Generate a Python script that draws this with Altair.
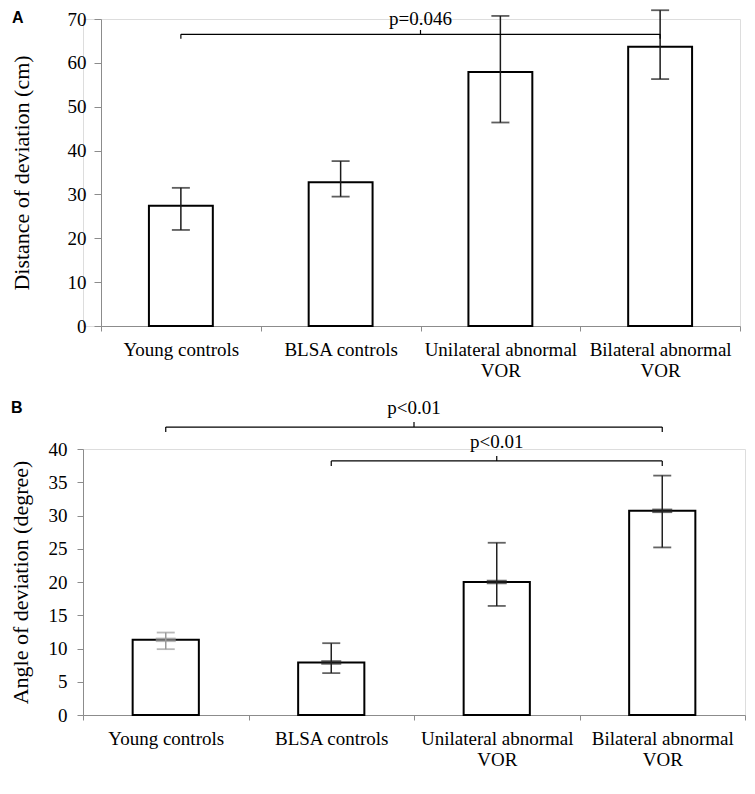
import altair as alt
import pandas as pd

# ---------------- data ----------------
categories = ["Young controls", "BLSA controls", "Unilateral abnormal|VOR", "Bilateral abnormal|VOR"]

dist_mean = [27.4, 32.8, 57.9, 63.7]
dist_low = [21.9, 29.5, 46.4, 56.3]
dist_high = [31.5, 37.6, 70.7, 72.0]

angle_mean = [11.3, 7.9, 20.0, 30.7]
angle_low = [9.9, 6.3, 16.4, 25.2]
angle_high = [12.4, 10.8, 25.9, 36.0]

# significance brackets (group index from, group index to, level, label)
dist_br_from = [0]
dist_br_to = [3]
dist_br_level = [66.5]
dist_br_label = ["p=0.046"]

angle_br_from = [0, 1]
angle_br_to = [3, 3]
angle_br_level = [43.3, 38.2]
angle_br_label = ["p<0.01", "p<0.01"]

panel_letters = ["A", "B"]

# ---------------- styling ----------------
SERIF = "Liberation Serif"
SANS = "Liberation Sans"
AXIS_GRAY = "#8c8c8c"


def panel(letter, means, lows, highs, brf, brt, brl, brlab, ytitle, ymax, ystep,
          width, x_start, height, tick_len, thick_marks, err_colors,
          ytick, ylabpad, ytitlepad, letter_x, letter_y, text_dy):
    df = pd.DataFrame({"cat": categories, "mean": means, "low": lows, "high": highs,
                       "ecol": err_colors})
    yscale = alt.Scale(domain=[0, ymax], nice=False, zero=True)
    yaxis = alt.Axis(values=list(range(0, ymax + 1, ystep)), grid=False,
                     offset=-x_start,
                     domainColor=AXIS_GRAY, tickColor=AXIS_GRAY, tickSize=ytick,
                     labelFont=SERIF, labelFontSize=19, labelColor="black",
                     labelPadding=ylabpad, titleFont=SERIF, titleFontSize=22,
                     titleFontWeight="normal", titleColor="black",
                     titlePadding=ytitlepad)
    xenc = alt.X("cat:N", sort=categories,
                 scale=alt.Scale(domain=categories, range=[x_start, width],
                                 paddingInner=0, paddingOuter=0),
                 axis=alt.Axis(title=None, labelAngle=0, tickBand="extent",
                               labelExpr="isValid(datum.value) ? split(datum.value, '|') : ''",
                               domainColor=AXIS_GRAY, tickColor=AXIS_GRAY, tickSize=5,
                               labelFont=SERIF, labelFontSize=19, labelColor="black",
                               labelPadding=9, labelLineHeight=21))

    def Y(field):
        return alt.Y(field, type="quantitative", scale=yscale, axis=yaxis, title=ytitle)

    base = alt.Chart(df)
    bars = base.mark_bar(fill="white", stroke="black", strokeWidth=2,
                         width=alt.RelativeBandSize(0.4)).encode(x=xenc, y=Y("mean"))
    err = base.mark_rule(strokeWidth=1.5).encode(
        x=xenc, y=Y("low"), y2="high", color=alt.Color("ecol:N", scale=None))
    cap_lo = base.mark_tick(size=18, thickness=1.8).encode(
        x=xenc, y=Y("low"), color=alt.Color("ecol:N", scale=None))
    cap_hi = base.mark_tick(size=18, thickness=1.8).encode(
        x=xenc, y=Y("high"), color=alt.Color("ecol:N", scale=None))
    layers = [bars, err, cap_lo, cap_hi]
    if thick_marks:
        thick = base.mark_tick(size=20, thickness=4.5).encode(
            x=xenc, y=Y("mean"), color=alt.Color("ecol:N", scale=None))
        layers.append(thick)
    bar_layer = alt.layer(*layers)

    br = pd.DataFrame({"f": brf, "t": brt, "lev": brl, "lab": brlab})
    br["x1"] = br["f"] + 0.5
    br["x2"] = br["t"] + 0.5
    br["mid"] = (br["x1"] + br["x2"]) / 2
    br["down"] = br["lev"] - tick_len
    br["up"] = br["lev"] + tick_len
    qx = alt.Scale(domain=[0, len(categories)], range=[x_start, width],
                   nice=False, zero=False)
    bb = alt.Chart(br)
    hline = bb.mark_rule(color="black", strokeWidth=1.2).encode(
        x=alt.X("x1:Q", scale=qx, axis=None), x2="x2", y=Y("lev"))
    lt = bb.mark_rule(color="black", strokeWidth=1.2).encode(
        x=alt.X("x1:Q", scale=qx, axis=None), y=Y("down"), y2="lev")
    rt = bb.mark_rule(color="black", strokeWidth=1.2).encode(
        x=alt.X("x2:Q", scale=qx, axis=None), y=Y("down"), y2="lev")
    mt = bb.mark_rule(color="black", strokeWidth=1.2).encode(
        x=alt.X("mid:Q", scale=qx, axis=None), y=Y("lev"), y2="up")
    txt = bb.mark_text(font=SERIF, fontSize=19, baseline="bottom", dy=text_dy,
                       color="black").encode(
        x=alt.X("mid:Q", scale=qx, axis=None), y=Y("up"), text="lab:N")
    br_layer = alt.layer(hline, lt, rt, mt, txt)

    # panel letter (annotation)
    let = alt.Chart(pd.DataFrame({"t": [letter]})).mark_text(
        font=SANS, fontSize=16, fontWeight="bold", align="left", baseline="top",
        color="black").encode(x=alt.value(letter_x), y=alt.value(letter_y), text="t:N")

    return alt.layer(bar_layer, br_layer, let).resolve_scale(x="independent").properties(
        width=width, height=height)


gray_first = ["#9a9a9a", "#222222", "#222222", "#222222"]
all_black = ["#1a1a1a"] * 4

panel_a = panel(panel_letters[0], dist_mean, dist_low, dist_high,
                dist_br_from, dist_br_to, dist_br_level, dist_br_label,
                "Distance of deviation (cm)", 70, 10, 657, 18, 307, 1.0, False, all_black,
                7, 8, 34, -71, -9, -1)
panel_b = panel(panel_letters[1], angle_mean, angle_low, angle_high,
                angle_br_from, angle_br_to, angle_br_level, angle_br_label,
                "Angle of deviation (degree)", 40, 5, 662, 0, 266, 0.75, True, gray_first,
                6, 10, 16, -72, -49, -4)

chart = alt.ConcatChart(concat=[panel_a, panel_b], columns=1, align="none",
                        spacing=17, padding=0).configure_view(stroke=None).configure(
    background="white", font=SERIF)

chart.save("out.html", embed_options={"renderer": "svg", "actions": False})
